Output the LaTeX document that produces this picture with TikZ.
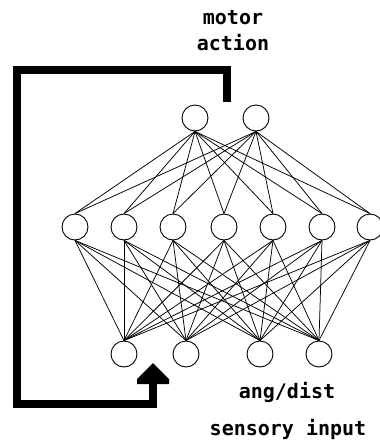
\documentclass[tikz,border=0pt]{standalone}
\usepackage{fontspec}
\newfontfamily\pixfont{DejaVu Sans Mono}[BoldFont={DejaVu Sans Mono Bold}]
\begin{document}
\begin{tikzpicture}[x=1pt,y=-1pt,
  neuron/.style={circle,draw=black,line width=0.9pt,minimum size=26pt,inner sep=0pt,fill=white},
  wire/.style={line width=0.75pt,black},
  thick path/.style={line width=8pt,black,line join=miter,line cap=rect},
  lbl/.style={font=\pixfont\bfseries\fontsize{20}{23}\selectfont,inner sep=0pt}]
\useasboundingbox (0,0) rectangle (380,440);
\begin{scope}
\clip (0,0) rectangle (380,440);
% output nodes
\node[neuron] (o1) at (195,118) {};
\node[neuron] (o2) at (256,118) {};
% hidden nodes
\foreach \i/\x in {1/75,2/124,3/173,4/224,5/273,6/322,7/370}
  \node[neuron] (h\i) at (\x,227) {};
% input nodes
\foreach \i/\x in {1/124,2/186,3/260,4/319}
  \node[neuron] (i\i) at (\x,354) {};
% connections
\foreach \o in {1,2}
  \foreach \h in {1,...,7}
    \draw[wire] (o\o.south) -- (h\h.north);
\foreach \h in {1,...,7}
  \foreach \n in {1,...,4}
    \draw[wire] (h\h.south) -- (i\n.north);
\end{scope}
% feedback loop
\coordinate (fbstart) at (227,98);
\coordinate (fbc1) at (227,70);
\coordinate (fbc2) at (17,70);
\coordinate (fbc3) at (17,404);
\coordinate (fbc4) at (153,404);
\coordinate (fbend) at (153,380);
\draw[thick path] (fbstart) -- (fbc1) -- (fbc2) -- (fbc3) -- (fbc4) -- (fbend);
\coordinate (tip) at (153,363);
\fill[black] (tip) -- (169,379) -- (169,384) -- (137,384) -- (137,379) -- cycle;
% labels
\node[lbl] (motor) at (233,18) {motor};
\node[lbl] (action) at (233,43) {action};
\node[lbl] (ang) at (287,392) {ang/dist};
\node[lbl] (sens) at (288,429) {sensory input};
\end{tikzpicture}
\end{document}
